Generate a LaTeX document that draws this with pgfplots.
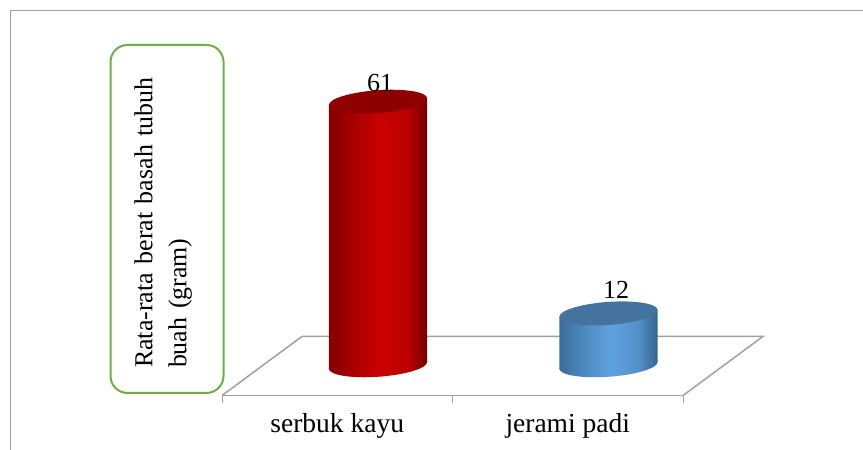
\documentclass[border=0pt]{standalone}
\usepackage{fontspec}
\setmainfont{Liberation Serif}
\usepackage{pgfplots}
\pgfplotsset{compat=1.18}

\definecolor{framegray}{HTML}{A0A0A0}
\definecolor{boxgreen}{HTML}{70AD47}
\definecolor{redtop}{HTML}{8E0000}
\definecolor{bluetop}{HTML}{44739F}
\definecolor{redA}{HTML}{840000}
\definecolor{redB}{HTML}{A60000}
\definecolor{redC}{HTML}{CA0000}
\definecolor{redD}{HTML}{BC0000}
\definecolor{redE}{HTML}{720000}
\definecolor{blueA}{HTML}{3A6D9B}
\definecolor{blueB}{HTML}{4C88BE}
\definecolor{blueC}{HTML}{5FA2E0}
\definecolor{blueD}{HTML}{5490C8}
\definecolor{blueE}{HTML}{34648F}

\pgfdeclarehorizontalshading{redcyl}{100bp}{color(0bp)=(redA); color(25bp)=(redA); color(37bp)=(redB); color(51bp)=(redC); color(65bp)=(redD); color(75bp)=(redE); color(100bp)=(redE)}
\pgfdeclarehorizontalshading{bluecyl}{100bp}{color(0bp)=(blueA); color(25bp)=(blueA); color(37bp)=(blueB); color(51bp)=(blueC); color(65bp)=(blueD); color(75bp)=(blueE); color(100bp)=(blueE)}

% tilted discs for the ends of the cylinders
\pgfdeclareplotmark{disc}{%
  \pgftransformrotate{4.1}%
  \pgfpathellipse{\pgfpointorigin}{\pgfqpoint{49.3pt}{0pt}}{\pgfqpoint{0pt}{11.5pt}}%
  \pgfusepathqfill}
\pgfdeclareplotmark{redbase}{%
  \pgftransformrotate{4.1}%
  \pgfpathellipse{\pgfpointorigin}{\pgfqpoint{49.3pt}{0pt}}{\pgfqpoint{0pt}{11.5pt}}%
  \pgfshadepath{redcyl}{0}\pgfusepath{discard}}
\pgfdeclareplotmark{bluebase}{%
  \pgftransformrotate{4.1}%
  \pgfpathellipse{\pgfpointorigin}{\pgfqpoint{49.3pt}{0pt}}{\pgfqpoint{0pt}{11.5pt}}%
  \pgfshadepath{bluecyl}{0}\pgfusepath{discard}}

\begin{document}
\begin{tikzpicture}
\useasboundingbox (0,0) rectangle (863pt,450pt);
\draw[framegray, line width=1pt] (10.5pt,0) -- (10.5pt,439pt) -- (863pt,439pt);
\begin{axis}[
    at={(222pt,54.5pt)},
    anchor=south west,
    x=230.5pt,
    y=4.32pt,
    xmin=-0.5, xmax=1.5,
    ymin=-7, ymax=70,
    clip=false,
    axis x line=bottom,
    axis y line=left,
    x axis line style={-, framegray, line width=1.5pt},
    y axis line style={draw=none},
    ytick=\empty,
    xtick={0,1},
    xticklabels={serbuk kayu, jerami padi},
    minor xtick={-0.5,0.5,1.5},
    major tick length=0pt,
    minor tick length=7.5pt,
    tick align=outside,
    minor tick style={framegray, line width=1pt},
    xticklabel style={font=\fontsize{27.5}{30}\selectfont, yshift=-14pt},
    ylabel={Rata-rata berat basah tubuh\\buah (gram)\rule[-13pt]{0pt}{1pt}},
    ylabel style={
        at={(rel axis cs:-0.1193,0.5307)}, anchor=center,
        draw=boxgreen, line width=2pt, rounded corners=17pt,
        minimum width=348pt, minimum height=113pt,
        inner xsep=25pt, text width=298pt, align=left,
        font=\fontsize{25.9}{34}\selectfont},
    /pgf/number format/assume math mode=true,
]
% floor of the chart
\addplot[framegray, line width=1.5pt, line join=miter, forget plot] coordinates {
    (-0.5,-7) (-0.153,6.67) (1.847,6.67) (1.5,-7)
};
% serbuk kayu
\addplot[only marks, mark=redbase, mark options={xshift=40.75pt}, forget plot] coordinates {(0,0)};
\addplot[ybar, bar width=98.4pt, bar shift=40.75pt, draw=none, shade, shading=redcyl, forget plot,
    yslant=0.0714, yshift=-11.14pt] coordinates {(0,61)};
\addplot[only marks, mark=disc, mark options={xshift=40.75pt, fill=redtop, draw=none}, forget plot,
    nodes near coords, every node near coord/.append style={font=\fontsize{26}{30}\selectfont, anchor=base, xshift=2pt, yshift=9.8pt, text=black}]
    coordinates {(0,61)};
% jerami padi
\addplot[only marks, mark=bluebase, mark options={xshift=40.75pt}, forget plot] coordinates {(1,0)};
\addplot[ybar, bar width=98.4pt, bar shift=40.75pt, draw=none, shade, shading=bluecyl, forget plot,
    yslant=0.0714, yshift=-27.6pt] coordinates {(1,12)};
\addplot[only marks, mark=disc, mark options={xshift=40.75pt, fill=bluetop, draw=none}, forget plot,
    nodes near coords, every node near coord/.append style={font=\fontsize{26}{30}\selectfont, anchor=base, xshift=7.5pt, yshift=14.5pt, text=black}]
    coordinates {(1,12)};
\end{axis}
\end{tikzpicture}
\end{document}
